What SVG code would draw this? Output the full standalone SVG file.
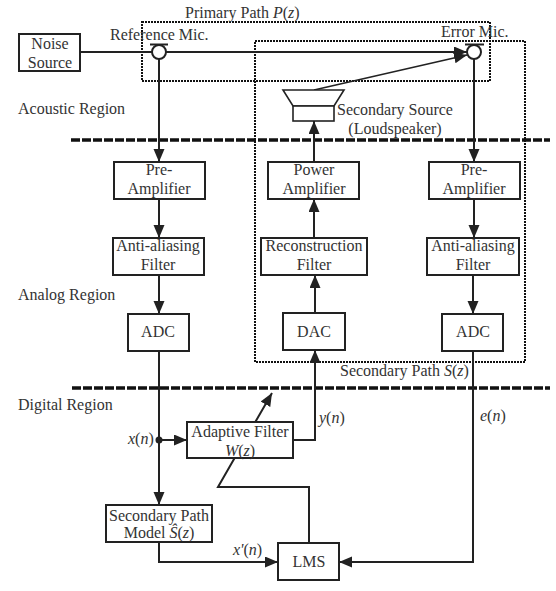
<svg xmlns="http://www.w3.org/2000/svg" width="556" height="591" viewBox="0 0 556 591">
  <style>
    text { font-family: "Liberation Serif", "Times New Roman", serif; font-size: 16px; fill: #333; }
    .m { text-anchor: middle; }
    .i { font-style: italic; }
    .box { fill: #fff; stroke: #222; stroke-width: 2; }
    .wire { fill: none; stroke: #222; stroke-width: 2; }
    .arrow { marker-end: url(#ah); }
    .dot { fill: none; stroke: #111; stroke-width: 2; stroke-dasharray: 2 1; }
    .dash { fill: none; stroke: #111; stroke-width: 3.5; stroke-dasharray: 9 2; }
  </style>
  <defs>
    <marker id="ah" markerUnits="userSpaceOnUse" markerWidth="14" markerHeight="12" refX="13" refY="5.5" orient="auto">
      <path d="M0,0 L13,5.5 L0,11 Z" fill="#222"/>
    </marker>
  </defs>
  <rect width="556" height="591" fill="#fff"/>

  <g id="regions">
    <rect class="dot" x="142" y="22" width="348" height="59"/>
    <rect class="dot" x="255" y="41" width="270" height="321"/>
    <path class="dash" d="M71,140H550"/>
    <path class="dash" d="M72,388H550"/>
    <text x="185" y="18">Primary Path <tspan class="i">P</tspan>(<tspan class="i">z</tspan>)</text>
    <text x="340" y="376">Secondary Path <tspan class="i">S</tspan>(<tspan class="i">z</tspan>)</text>
    <text x="18" y="114">Acoustic Region</text>
    <text x="18" y="300">Analog Region</text>
    <text x="18" y="410">Digital Region</text>
  </g>

  <g id="connectors">
    <path class="wire" d="M80,52H152"/>
    <path class="wire arrow" d="M166,52H467"/>
    <path class="wire arrow" style="stroke-width:1.6" d="M314,90L467,55"/>
    <path class="wire arrow" d="M159,59V162"/>
    <path class="wire arrow" d="M159,199V238"/>
    <path class="wire arrow" d="M159,275V314"/>
    <path class="wire arrow" d="M474,59V162"/>
    <path class="wire arrow" d="M474,199V238"/>
    <path class="wire arrow" d="M473,275V314"/>
    <path class="wire arrow" d="M314,162V121"/>
    <path class="wire arrow" d="M314,238V199"/>
    <path class="wire arrow" d="M315,313V275"/>
    <path class="wire arrow" d="M293,440H315V350"/>
    <path class="wire arrow" d="M159,351V505"/>
    <path class="wire arrow" d="M159,440H187"/>
    <circle cx="159" cy="440" r="3.5" fill="#222"/>
    <path class="wire arrow" d="M159,542V562H278"/>
    <path class="wire arrow" d="M473,351V562H339"/>
    <path class="wire arrow" d="M309,543V487H218L272,393"/>
  </g>

  <g id="noise-source">
    <rect class="box" x="19" y="34" width="61" height="37"/>
    <text class="m" x="50" y="49">Noise</text>
    <text class="m" x="50" y="68">Source</text>
  </g>
  <g id="reference-mic">
    <circle cx="159" cy="52" r="7" fill="#fff" stroke="#222" stroke-width="2"/>
    <path class="wire" d="M150,44.5H168"/>
    <text x="110" y="40">Reference Mic.</text>
  </g>
  <g id="error-mic">
    <circle cx="474" cy="52" r="7" fill="#fff" stroke="#222" stroke-width="2"/>
    <path class="wire" d="M465,44.5H484"/>
    <text x="441" y="37">Error Mic.</text>
  </g>
  <g id="secondary-source">
    <path d="M283,90H344L334,106H293Z" fill="#fff" stroke="#222" stroke-width="1.6"/>
    <rect x="293" y="106" width="41" height="15" fill="#fff" stroke="#222" stroke-width="1.6"/>
    <text x="337" y="115">Secondary Source</text>
    <text class="m" x="395" y="134">(Loudspeaker)</text>
  </g>
  <g id="pre-amplifier-ref">
    <rect class="box" x="114" y="162" width="91" height="37"/>
    <text class="m" x="159" y="175">Pre-</text>
    <text class="m" x="159" y="194">Amplifier</text>
  </g>
  <g id="anti-aliasing-ref">
    <rect class="box" x="113" y="238" width="91" height="37"/>
    <text class="m" x="158" y="251">Anti-aliasing</text>
    <text class="m" x="158" y="270">Filter</text>
  </g>
  <g id="adc-ref">
    <rect class="box" x="128" y="314" width="61" height="37"/>
    <text class="m" x="158" y="337">ADC</text>
  </g>
  <g id="power-amplifier">
    <rect class="box" x="268" y="162" width="91" height="37"/>
    <text class="m" x="314" y="175">Power</text>
    <text class="m" x="314" y="194">Amplifier</text>
  </g>
  <g id="reconstruction-filter">
    <rect class="box" x="261" y="238" width="106" height="37"/>
    <text class="m" x="314" y="251">Reconstruction</text>
    <text class="m" x="314" y="270">Filter</text>
  </g>
  <g id="dac">
    <rect class="box" x="283" y="313" width="62" height="37"/>
    <text class="m" x="314" y="337">DAC</text>
  </g>
  <g id="pre-amplifier-err">
    <rect class="box" x="429" y="162" width="91" height="37"/>
    <text class="m" x="474" y="175">Pre-</text>
    <text class="m" x="474" y="194">Amplifier</text>
  </g>
  <g id="anti-aliasing-err">
    <rect class="box" x="427" y="238" width="92" height="37"/>
    <text class="m" x="473" y="251">Anti-aliasing</text>
    <text class="m" x="473" y="270">Filter</text>
  </g>
  <g id="adc-err">
    <rect class="box" x="442" y="314" width="61" height="37"/>
    <text class="m" x="473" y="337">ADC</text>
  </g>
  <g id="adaptive-filter">
    <rect class="box" x="187" y="422" width="106" height="36"/>
    <text class="m" x="240" y="437">Adaptive Filter</text>
    <text class="m" x="240" y="456"><tspan class="i">W</tspan>(<tspan class="i">z</tspan>)</text>
  </g>
  <g id="secondary-path-model">
    <rect class="box" x="106" y="505" width="106" height="37"/>
    <text class="m" x="159" y="521">Secondary Path</text>
    <text class="m" x="159" y="538">Model <tspan class="i">Ŝ</tspan>(<tspan class="i">z</tspan>)</text>
  </g>
  <g id="lms">
    <rect class="box" x="278" y="543" width="61" height="37"/>
    <text class="m" x="309" y="567">LMS</text>
  </g>
  <g id="signal-labels">
    <text x="128" y="444"><tspan class="i">x</tspan>(<tspan class="i">n</tspan>)</text>
    <text x="319" y="423"><tspan class="i">y</tspan>(<tspan class="i">n</tspan>)</text>
    <text x="480" y="421"><tspan class="i">e</tspan>(<tspan class="i">n</tspan>)</text>
    <text x="233" y="555"><tspan class="i">x'</tspan>(<tspan class="i">n</tspan>)</text>
  </g>
</svg>
